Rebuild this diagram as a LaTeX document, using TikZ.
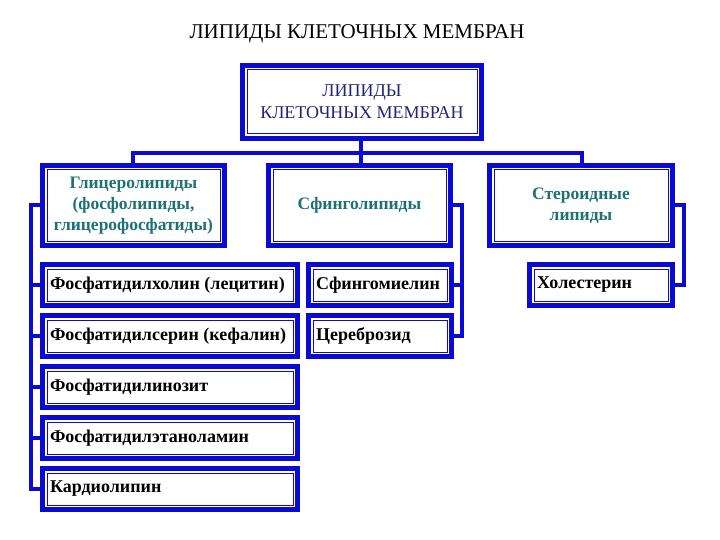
\documentclass[tikz,border=0pt]{standalone}
\usepackage{fontspec}
\setmainfont{Liberation Serif}
\definecolor{bb}{HTML}{0A0AD2}
\definecolor{navy}{HTML}{23237A}
\definecolor{teal2}{HTML}{1E7272}
\tikzset{
 outerb/.style={draw=bb,line width=5pt,fill=white,inner sep=0pt,outer sep=0pt},
 innerb/.style={draw=bb,line width=1pt},
 conn/.style={draw=bb,line width=4pt},
 cat/.style={text=teal2,font=\bfseries\fontsize{17.5}{21}\selectfont,align=center},
 itm/.style={text=black,font=\bfseries\fontsize{18}{20}\selectfont,anchor=west},
}
% name x1 y1 x2 y2
\newcommand\bxx[5]{%
 \node[outerb,minimum width={#4-#2-5},minimum height={#5-#3-5}] (#1) at ({(#2+#4)/2},{-(#3+#5)/2}) {};
 \draw[innerb] ({#2+7},{-#3-7}) rectangle ({#4-7},{-#5+7});}
\begin{document}
\begin{tikzpicture}[x=1pt,y=1pt]
\useasboundingbox (0,0) rectangle (720,-540);
\node[font=\fontsize{21}{24}\selectfont] (title) at (357,-34) {ЛИПИДЫ КЛЕТОЧНЫХ МЕМБРАН};
\coordinate (bl) at (133,-153);
\coordinate (br) at (582,-153);
\coordinate (bc) at (361,-153);
\bxx{top}{240}{63}{484}{141}
\bxx{gly}{40}{163}{227}{248}
\bxx{sph}{266}{163}{453}{248}
\bxx{ste}{487}{163}{675}{248}
\bxx{a1}{40}{262}{300}{308}
\bxx{a2}{40}{313}{300}{359}
\bxx{a3}{40}{364}{300}{410}
\bxx{a4}{40}{415}{300}{461}
\bxx{a5}{40}{466}{300}{512}
\bxx{b1}{306}{262}{454}{308}
\bxx{b2}{306}{313}{454}{359}
\bxx{c1}{527}{262}{675}{308}
\draw[conn] (top.south -| bc) -- (sph.north -| bc);
\draw[conn] (gly.north -| bl) -- (bl) -- (br) -- (ste.north -| br);
\draw[conn] (gly.west) -- ++(-12,0) coordinate (lb) |- (a5.west);
\foreach \n in {a1,a2,a3,a4} \draw[conn] (\n.west) -- (\n.west -| lb);
\draw[conn] (sph.east) -- ++(11,0) coordinate (rb) |- (b2.east);
\draw[conn] (b1.east) -- (b1.east -| rb);
\draw[conn] (ste.east) -- ++(11,0) |- (c1.east);
\node[text=navy,font=\fontsize{18}{22}\selectfont,align=center] at (top) {ЛИПИДЫ\\КЛЕТОЧНЫХ МЕМБРАН};
\node[cat] at (gly) {Глицеролипиды\\(фосфолипиды,\\глицерофосфатиды)};
\node[cat] at (sph) {Сфинголипиды};
\node[cat] at (ste) {Стероидные\\липиды};
\node[itm] at ([xshift=4]a1.west) {Фосфатидилхолин (лецитин)};
\node[itm] at ([xshift=4]a2.west) {Фосфатидилсерин (кефалин)};
\node[itm] at ([xshift=4]a3.west) {Фосфатидилинозит};
\node[itm] at ([xshift=4]a4.west) {Фосфатидилэтаноламин};
\node[itm] at ([xshift=4]a5.west) {Кардиолипин};
\node[itm] at ([xshift=4]b1.west) {Сфингомиелин};
\node[itm] at ([xshift=4]b2.west) {Цереброзид};
\node[itm] at ([xshift=4]c1.west) {Холестерин};
\end{tikzpicture}
\end{document}
